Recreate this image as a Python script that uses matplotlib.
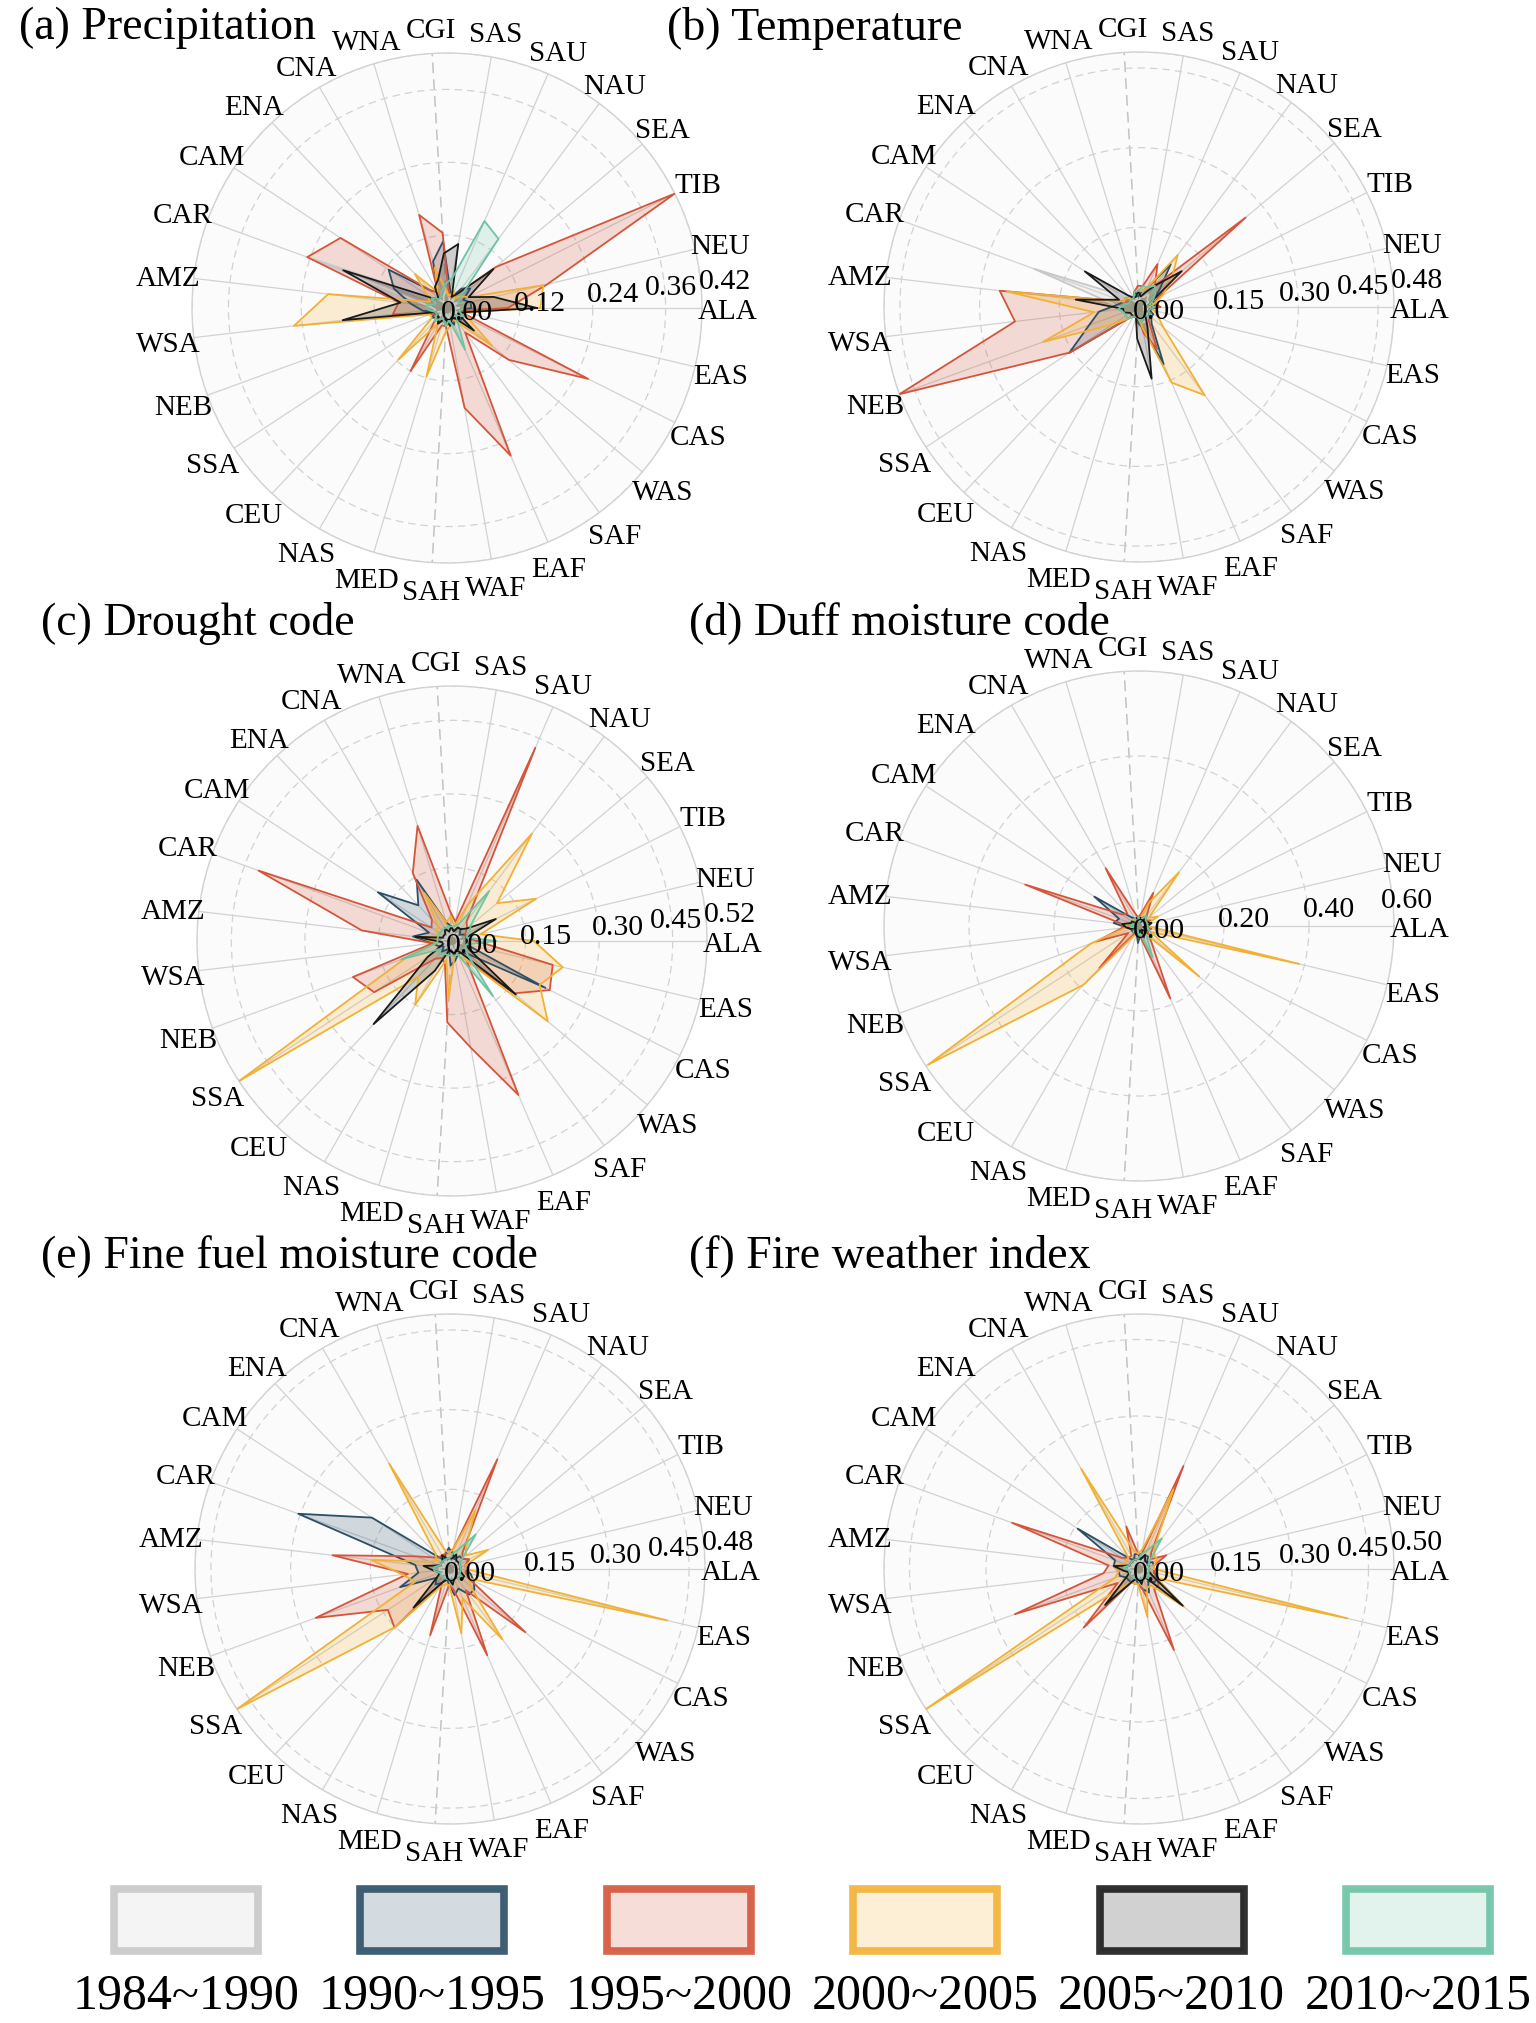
import numpy as np
import matplotlib
matplotlib.use("Agg")
import matplotlib.pyplot as plt
from matplotlib.patches import Rectangle
from matplotlib.transforms import ScaledTranslation

plt.rcParams["font.family"] = ["Liberation Serif", "DejaVu Serif"]

regions = ["ALA", "EAS", "CAS", "WAS", "SAF", "EAF", "WAF", "SAH", "MED",
           "NAS", "CEU", "SSA", "NEB", "WSA", "AMZ", "CAR", "CAM", "ENA",
           "CNA", "WNA", "CGI", "SAS", "SAU", "NAU", "SEA", "TIB", "NEU"]
periods = ["1984~1990", "1990~1995", "1995~2000", "2000~2005", "2005~2010", "2010~2015"]
colors = ["#c8c8c8", "#2b4f66", "#d4553a", "#f2b134", "#1a1a1a", "#6cc4a4"]

# (a) precipitation
pr_1984 = [0.02, 0.01, 0.02, 0.01, 0.02, 0.01, 0.02, 0.01, 0.02, 0.01, 0.02, 0.01, 0.02, 0.02,
           0.03, 0.24, 0.03, 0.02, 0.01, 0.02, 0.03, 0.02, 0.01, 0.02, 0.01, 0.02, 0.01]
pr_1990 = [0.04, 0.02, 0.03, 0.03, 0.02, 0.03, 0.02, 0.03, 0.02, 0.03, 0.02, 0.03, 0.02, 0.04,
           0.06, 0.093, 0.115, 0.04, 0.03, 0.08, 0.11, 0.03, 0.02, 0.04, 0.05, 0.03, 0.04]
pr_1995 = [0.10, 0.02, 0.26, 0.133, 0.05, 0.265, 0.167, 0.03, 0.03, 0.12, 0.03, 0.02, 0.03, 0.09,
           0.08, 0.245, 0.21, 0.04, 0.03, 0.16, 0.124, 0.02, 0.02, 0.03, 0.105, 0.42, 0.17]
pr_2000 = [0.154, 0.03, 0.04, 0.097, 0.03, 0.02, 0.03, 0.04, 0.118, 0.03, 0.117, 0.03, 0.03, 0.254,
           0.197, 0.03, 0.04, 0.077, 0.03, 0.07, 0.03, 0.02, 0.03, 0.02, 0.03, 0.04, 0.163]
pr_2005 = [0.148, 0.03, 0.02, 0.058, 0.02, 0.02, 0.03, 0.02, 0.02, 0.03, 0.02, 0.02, 0.02, 0.173,
           0.077, 0.182, 0.03, 0.02, 0.04, 0.05, 0.09, 0.107, 0.02, 0.03, 0.10, 0.04, 0.079]
pr_2010 = [0.03, 0.02, 0.03, 0.02, 0.03, 0.075, 0.02, 0.03, 0.02, 0.02, 0.03, 0.02, 0.02, 0.03,
           0.035, 0.02, 0.03, 0.02, 0.02, 0.03, 0.04, 0.05, 0.156, 0.142, 0.03, 0.02, 0.03]

# (b) temperature
tm_1984 = [0.01, 0.02, 0.01, 0.02, 0.02, 0.03, 0.03, 0.05, 0.02, 0.01, 0.02, 0.02, 0.03, 0.03,
           0.05, 0.21, 0.04, 0.02, 0.01, 0.02, 0.01, 0.02, 0.02, 0.03, 0.02, 0.02, 0.01]
tm_1990 = [0.03, 0.02, 0.03, 0.03, 0.04, 0.117, 0.04, 0.03, 0.02, 0.02, 0.03, 0.157, 0.10, 0.076,
           0.04, 0.03, 0.03, 0.02, 0.02, 0.03, 0.02, 0.03, 0.04, 0.10, 0.05, 0.03, 0.03]
tm_1995 = [0.04, 0.02, 0.02, 0.03, 0.03, 0.086, 0.05, 0.02, 0.02, 0.02, 0.03, 0.156, 0.48, 0.235,
           0.264, 0.03, 0.02, 0.02, 0.02, 0.03, 0.04, 0.04, 0.088, 0.05, 0.262, 0.04, 0.03]
tm_2000 = [0.02, 0.03, 0.04, 0.06, 0.207, 0.155, 0.04, 0.02, 0.02, 0.02, 0.03, 0.06, 0.192, 0.085,
           0.25, 0.03, 0.03, 0.02, 0.02, 0.02, 0.03, 0.03, 0.04, 0.122, 0.08, 0.05, 0.03]
tm_2005 = [0.03, 0.02, 0.02, 0.03, 0.02, 0.04, 0.137, 0.06, 0.02, 0.02, 0.02, 0.02, 0.03, 0.03,
           0.12, 0.04, 0.122, 0.03, 0.02, 0.02, 0.03, 0.02, 0.03, 0.05, 0.105, 0.03, 0.02]
tm_2010 = [0.03, 0.02, 0.02, 0.03, 0.02, 0.02, 0.03, 0.02, 0.02, 0.02, 0.03, 0.03, 0.03, 0.04,
           0.03, 0.02, 0.02, 0.02, 0.02, 0.03, 0.03, 0.04, 0.04, 0.05, 0.04, 0.03, 0.02]

# (c) drought code
dc_1984 = [0.02, 0.02, 0.01, 0.02, 0.01, 0.02, 0.02, 0.01, 0.02, 0.01, 0.02, 0.02, 0.01, 0.02,
           0.02, 0.01, 0.02, 0.01, 0.02, 0.01, 0.02, 0.02, 0.01, 0.02, 0.01, 0.02, 0.01]
dc_1990 = [0.03, 0.03, 0.213, 0.04, 0.03, 0.03, 0.04, 0.05, 0.02, 0.02, 0.03, 0.02, 0.03, 0.04,
           0.08, 0.05, 0.181, 0.10, 0.144, 0.04, 0.03, 0.02, 0.03, 0.03, 0.02, 0.03, 0.03]
dc_1995 = [0.05, 0.211, 0.223, 0.166, 0.05, 0.342, 0.221, 0.166, 0.05, 0.04, 0.05, 0.19, 0.215, 0.04,
           0.185, 0.42, 0.05, 0.06, 0.16, 0.245, 0.06, 0.04, 0.429, 0.05, 0.04, 0.03, 0.03]
dc_2000 = [0.167, 0.232, 0.20, 0.255, 0.05, 0.03, 0.03, 0.116, 0.04, 0.15, 0.10, 0.52, 0.10, 0.03,
           0.07, 0.03, 0.04, 0.04, 0.113, 0.04, 0.05, 0.03, 0.08, 0.273, 0.12, 0.192, 0.06]
dc_2005 = [0.03, 0.03, 0.04, 0.17, 0.03, 0.02, 0.03, 0.02, 0.02, 0.07, 0.233, 0.06, 0.02, 0.02,
           0.075, 0.02, 0.02, 0.02, 0.03, 0.02, 0.03, 0.02, 0.03, 0.03, 0.04, 0.10, 0.03]
dc_2010 = [0.09, 0.03, 0.03, 0.04, 0.14, 0.03, 0.03, 0.03, 0.03, 0.03, 0.04, 0.03, 0.11, 0.03,
           0.03, 0.03, 0.03, 0.03, 0.03, 0.03, 0.03, 0.03, 0.04, 0.127, 0.05, 0.04, 0.03]

# (d) duff moisture code
dm_1984 = [0.01, 0.01, 0.01, 0.01, 0.01, 0.01, 0.01, 0.01, 0.01, 0.01, 0.01, 0.01, 0.01, 0.01,
           0.01, 0.01, 0.01, 0.01, 0.01, 0.01, 0.01, 0.01, 0.01, 0.01, 0.01, 0.01, 0.01]
dm_1990 = [0.02, 0.02, 0.02, 0.03, 0.02, 0.03, 0.02, 0.04, 0.02, 0.02, 0.02, 0.02, 0.02, 0.03,
           0.06, 0.05, 0.126, 0.03, 0.02, 0.02, 0.02, 0.02, 0.02, 0.03, 0.02, 0.02, 0.03]
dm_1995 = [0.02, 0.03, 0.02, 0.03, 0.05, 0.186, 0.03, 0.02, 0.02, 0.02, 0.136, 0.03, 0.107, 0.04,
           0.04, 0.285, 0.05, 0.04, 0.157, 0.03, 0.02, 0.03, 0.085, 0.03, 0.02, 0.03, 0.02]
dm_2000 = [0.02, 0.387, 0.03, 0.185, 0.02, 0.02, 0.02, 0.02, 0.02, 0.03, 0.19, 0.594, 0.12, 0.03,
           0.03, 0.02, 0.02, 0.02, 0.02, 0.02, 0.02, 0.02, 0.06, 0.158, 0.03, 0.05, 0.02]
dm_2005 = [0.02, 0.01, 0.02, 0.02, 0.01, 0.02, 0.01, 0.02, 0.01, 0.01, 0.02, 0.01, 0.02, 0.03,
           0.04, 0.02, 0.02, 0.01, 0.01, 0.02, 0.01, 0.02, 0.01, 0.02, 0.02, 0.02, 0.03]
dm_2010 = [0.02, 0.02, 0.03, 0.04, 0.03, 0.08, 0.02, 0.02, 0.01, 0.01, 0.02, 0.01, 0.01, 0.02,
           0.02, 0.01, 0.01, 0.01, 0.02, 0.01, 0.02, 0.01, 0.02, 0.03, 0.02, 0.02, 0.02]

# (e) fine fuel moisture code
ff_1984 = [0.01, 0.02, 0.01, 0.02, 0.01, 0.02, 0.01, 0.02, 0.01, 0.02, 0.01, 0.02, 0.01, 0.02,
           0.02, 0.01, 0.02, 0.01, 0.02, 0.01, 0.02, 0.01, 0.02, 0.01, 0.02, 0.01, 0.02]
ff_1990 = [0.03, 0.04, 0.05, 0.06, 0.06, 0.04, 0.05, 0.03, 0.02, 0.03, 0.04, 0.03, 0.10, 0.06,
           0.066, 0.304, 0.176, 0.03, 0.02, 0.03, 0.04, 0.03, 0.02, 0.03, 0.03, 0.04, 0.03]
ff_1995 = [0.03, 0.03, 0.04, 0.185, 0.05, 0.177, 0.04, 0.03, 0.13, 0.03, 0.152, 0.14, 0.269, 0.08,
           0.223, 0.07, 0.04, 0.03, 0.03, 0.03, 0.03, 0.04, 0.225, 0.04, 0.03, 0.04, 0.03]
ff_2000 = [0.03, 0.42, 0.04, 0.05, 0.165, 0.06, 0.123, 0.03, 0.03, 0.04, 0.15, 0.48, 0.07, 0.09,
           0.15, 0.04, 0.03, 0.04, 0.229, 0.04, 0.03, 0.04, 0.12, 0.05, 0.04, 0.08, 0.03]
ff_2005 = [0.02, 0.02, 0.03, 0.03, 0.02, 0.02, 0.03, 0.02, 0.02, 0.03, 0.10, 0.03, 0.02, 0.03,
           0.05, 0.02, 0.02, 0.02, 0.03, 0.02, 0.02, 0.02, 0.03, 0.02, 0.02, 0.02, 0.02]
ff_2010 = [0.02, 0.02, 0.02, 0.03, 0.02, 0.02, 0.02, 0.02, 0.02, 0.02, 0.02, 0.02, 0.02, 0.03,
           0.03, 0.02, 0.02, 0.02, 0.02, 0.02, 0.02, 0.03, 0.04, 0.081, 0.03, 0.02, 0.02]

# (f) fire weather index
fw_1984 = [0.01, 0.02, 0.01, 0.02, 0.01, 0.02, 0.01, 0.02, 0.01, 0.02, 0.01, 0.02, 0.01, 0.02,
           0.02, 0.01, 0.02, 0.01, 0.02, 0.01, 0.02, 0.01, 0.02, 0.01, 0.02, 0.01, 0.02]
fw_1990 = [0.03, 0.03, 0.04, 0.04, 0.03, 0.05, 0.04, 0.03, 0.02, 0.03, 0.03, 0.03, 0.04, 0.04,
           0.05, 0.05, 0.144, 0.03, 0.02, 0.03, 0.03, 0.02, 0.03, 0.03, 0.02, 0.03, 0.03]
fw_1995 = [0.03, 0.03, 0.04, 0.05, 0.05, 0.173, 0.04, 0.03, 0.03, 0.03, 0.158, 0.05, 0.259, 0.07,
           0.06, 0.265, 0.04, 0.03, 0.03, 0.087, 0.03, 0.03, 0.22, 0.04, 0.03, 0.06, 0.03]
fw_2000 = [0.03, 0.42, 0.04, 0.115, 0.04, 0.04, 0.096, 0.03, 0.03, 0.03, 0.05, 0.50, 0.05, 0.04,
           0.05, 0.03, 0.03, 0.03, 0.227, 0.04, 0.03, 0.04, 0.17, 0.05, 0.04, 0.04, 0.03]
fw_2005 = [0.02, 0.02, 0.03, 0.112, 0.02, 0.02, 0.03, 0.02, 0.02, 0.03, 0.097, 0.03, 0.02, 0.03,
           0.05, 0.02, 0.02, 0.02, 0.02, 0.02, 0.02, 0.02, 0.03, 0.02, 0.02, 0.02, 0.02]
fw_2010 = [0.02, 0.02, 0.02, 0.03, 0.02, 0.02, 0.02, 0.02, 0.02, 0.02, 0.02, 0.02, 0.02, 0.02,
           0.03, 0.02, 0.02, 0.02, 0.02, 0.02, 0.02, 0.03, 0.04, 0.075, 0.03, 0.02, 0.02]

panels = [
    ("(a) Precipitation", [pr_1984, pr_1990, pr_1995, pr_2000, pr_2005, pr_2010],
     0.42, [0.00, 0.12, 0.24, 0.36, 0.42]),
    ("(b) Temperature", [tm_1984, tm_1990, tm_1995, tm_2000, tm_2005, tm_2010],
     0.48, [0.00, 0.15, 0.30, 0.45, 0.48]),
    ("(c) Drought code", [dc_1984, dc_1990, dc_1995, dc_2000, dc_2005, dc_2010],
     0.52, [0.00, 0.15, 0.30, 0.45, 0.52]),
    ("(d) Duff moisture code", [dm_1984, dm_1990, dm_1995, dm_2000, dm_2005, dm_2010],
     0.60, [0.00, 0.20, 0.40, 0.60]),
    ("(e) Fine fuel moisture code", [ff_1984, ff_1990, ff_1995, ff_2000, ff_2005, ff_2010],
     0.48, [0.00, 0.15, 0.30, 0.45, 0.48]),
    ("(f) Fire weather index", [fw_1984, fw_1990, fw_1995, fw_2000, fw_2005, fw_2010],
     0.50, [0.00, 0.15, 0.30, 0.45, 0.50]),
]

W, H = 1536, 2024
RAD = 255  # polar radius in pixels
LABEL_R = 281  # radius of the region labels in pixels
centers = [(447, 309), (1139, 308), (452, 942), (1139, 927), (450, 1570), (1139, 1570)]
title_pos = [(19, 28), (667, 28), (41, 623), (689, 623), (41, 1256), (689, 1256)]
GRID = "#d2d2d2"
LAB_W = 52  # rough pixel width of a "0.00" label

fig = plt.figure(figsize=(W / 100, H / 100), dpi=100)
down3 = ScaledTranslation(0, -3 / 100, fig.dpi_scale_trans)

theta = np.linspace(0, 2 * np.pi, len(regions), endpoint=False)
theta_c = np.append(theta, theta[0])
dashed_spokes = {"SAH", "CGI"}

for (title, series, rmax, ticks), (cx, cy) in zip(panels, centers):
    ax = fig.add_axes([(cx - RAD) / W, 1 - (cy + RAD) / H, 2 * RAD / W, 2 * RAD / H],
                      projection="polar")
    ax.set_theta_offset(0)
    ax.set_theta_direction(-1)
    ax.set_facecolor("#fbfbfb")
    ax.set_ylim(0, rmax)

    ax.set_xticks(theta)
    ax.set_xticklabels([])
    ax.tick_params(axis="x", length=0)
    ax.set_yticks(ticks[1:])
    ax.set_yticklabels([])
    ax.xaxis.grid(False)
    ax.yaxis.grid(True, color=GRID, lw=0.9, ls=(0, (6, 4)))
    ax.spines["polar"].set_color(GRID)
    ax.spines["polar"].set_linewidth(1.0)

    # spokes
    for t, reg in zip(theta, regions):
        if reg in dashed_spokes:
            ax.plot([t, t], [0, rmax], color="#c2c2c2", lw=1.1, ls=(0, (7, 4)), zorder=1)
        else:
            ax.plot([t, t], [0, rmax], color=GRID, lw=0.9, zorder=1)

    # region labels around the circle
    for t, reg in zip(theta, regions):
        ax.text(t, rmax * LABEL_R / RAD, reg, fontsize=21, ha="center", va="center",
                transform=ax.transData + down3, clip_on=False)

    for vals, c in zip(series, colors):
        v = np.append(vals, vals[0])
        ax.fill(theta_c, v, color=c, alpha=0.2, lw=0, zorder=3)
        ax.plot(theta_c, v, color=c, lw=1.3, zorder=4)

# overlay in pixel coordinates for titles, radial labels and legend
ov = fig.add_axes([0, 0, 1, 1])
ov.set_xlim(0, W)
ov.set_ylim(H, 0)
ov.axis("off")

for (title, _, rmax, ticks), (cx, cy), (tx, ty) in zip(panels, centers, title_pos):
    ov.text(tx, ty, title, fontsize=33, ha="left", va="center")
    n = len(ticks)
    crowded = ticks[n - 2] > 0.8 * rmax
    for k, t in enumerate(ticks):
        r_px = t / rmax * RAD
        if k == n - 1:
            rc = RAD + 23 if crowded else RAD + 13
        elif k == n - 2 and crowded:
            rc = RAD - 5 - LAB_W / 2
        else:
            rc = r_px + 20
            if k == n - 3 and crowded:
                rc = min(rc, RAD - 5 - LAB_W - 6 - LAB_W / 2)
        ov.text(cx + rc, cy - (0.12 * rc - 6), "%.2f" % t, fontsize=21.5,
                ha="center", va="center")

for i, (lab, c) in enumerate(zip(periods, colors)):
    lx = 186 + 246.4 * i
    ov.add_patch(Rectangle((lx - 72, 1890), 144, 62, facecolor=c, alpha=0.2, lw=0))
    ov.add_patch(Rectangle((lx - 72, 1890), 144, 62, facecolor="none", edgecolor=c,
                           lw=5.5, alpha=0.9))
    ov.text(lx, 1996, lab, fontsize=36, ha="center", va="center")

fig.savefig("out.png", dpi=100)
